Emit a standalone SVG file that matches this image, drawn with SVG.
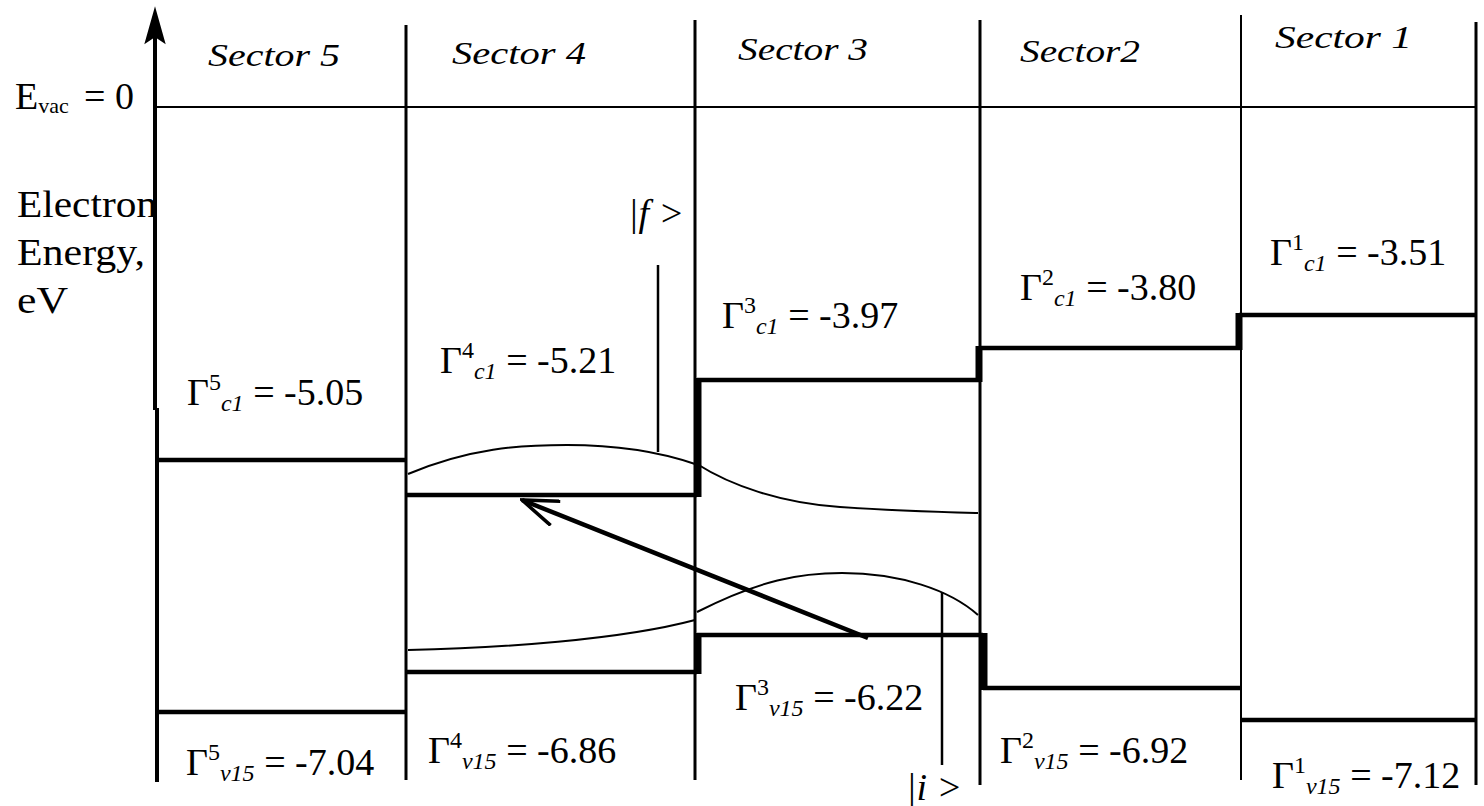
<svg xmlns="http://www.w3.org/2000/svg" width="1484" height="806" viewBox="0 0 1484 806">
<style>
text{font-family:"Liberation Serif","Times New Roman",serif;fill:#000}
.sec{font-style:italic;font-size:32px}
.lab{font-size:38px}
.g{font-size:38px}
.sup{font-size:24px}
.sub{font-size:24px;font-style:italic}
.div{stroke:#000;stroke-width:3;fill:none}
.band{stroke:#000;stroke-width:4.5;fill:none}
.step{stroke:#000;stroke-width:7;fill:none}
.wf{stroke:#000;stroke-width:2;fill:none}
.mk{stroke:#000;stroke-width:2.5;fill:none}
</style>
<defs>
<marker id="ah" viewBox="0 0 40 28" refX="38" refY="14" markerWidth="40" markerHeight="28" markerUnits="userSpaceOnUse" orient="auto">
<path d="M2,1 L38,14 L2,27" fill="none" stroke="#000" stroke-width="3.5"/>
</marker>
</defs>
<rect width="1484" height="806" fill="#fff"/>

<g id="axis-labels">
<text x="15" y="109" class="lab">E<tspan font-size="22" dy="4">vac</tspan><tspan dy="-4" x="84">= 0</tspan></text>
<text x="17" y="217" class="lab" textLength="140" lengthAdjust="spacingAndGlyphs">Electron</text>
<text x="17" y="265" class="lab" textLength="128" lengthAdjust="spacingAndGlyphs">Energy,</text>
<text x="17" y="313" class="lab" textLength="51" lengthAdjust="spacingAndGlyphs">eV</text>
</g>

<g id="axis">
<line x1="155" y1="28" x2="155" y2="410" stroke="#000" stroke-width="4"/>
<line x1="157" y1="408" x2="157" y2="782" stroke="#000" stroke-width="4"/>
<path d="M155,10 L146,42 L155,36 L164,42 Z" fill="#000" stroke="#000" stroke-width="2"/>
</g>

<g id="dividers">
<line x1="157" y1="107" x2="1476" y2="107" stroke="#000" stroke-width="2"/>
<line class="div" x1="406" y1="25" x2="406" y2="780"/>
<line class="div" x1="695" y1="20" x2="695" y2="780"/>
<line class="div" x1="980" y1="20" x2="980" y2="785"/>
<line x1="1241" y1="15" x2="1241" y2="780" stroke="#000" stroke-width="2"/>
<line class="div" x1="1476" y1="22" x2="1476" y2="785"/>
</g>

<g id="sector5">
<text x="208" y="66" class="sec" textLength="132" lengthAdjust="spacingAndGlyphs">Sector 5</text>
<line class="band" x1="157" y1="460" x2="406" y2="460"/>
<line class="band" x1="157" y1="712" x2="406" y2="712"/>
<text x="187" y="405" class="g">Γ<tspan class="sup" dy="-15">5</tspan><tspan class="sub" dy="21">c1</tspan><tspan dy="-6"> = -5.05</tspan></text>
<text x="186" y="775" class="g">Γ<tspan class="sup" dy="-15">5</tspan><tspan class="sub" dy="21">v15</tspan><tspan dy="-6"> = -7.04</tspan></text>
</g>

<g id="sector4">
<text x="452" y="64" class="sec" textLength="134" lengthAdjust="spacingAndGlyphs">Sector 4</text>
<line class="band" x1="406" y1="495" x2="697" y2="495"/>
<line class="band" x1="406" y1="672" x2="697" y2="672"/>
<text x="440" y="373" class="g">Γ<tspan class="sup" dy="-15">4</tspan><tspan class="sub" dy="21">c1</tspan><tspan dy="-6"> = -5.21</tspan></text>
<text x="428" y="763" class="g">Γ<tspan class="sup" dy="-15">4</tspan><tspan class="sub" dy="21">v15</tspan><tspan dy="-6"> = -6.86</tspan></text>
</g>

<g id="sector3">
<text x="738" y="60" class="sec" textLength="130" lengthAdjust="spacingAndGlyphs">Sector 3</text>
<line class="band" x1="697" y1="380" x2="980" y2="380"/>
<line class="band" x1="697" y1="635" x2="983" y2="635"/>
<line class="step" x1="698" y1="378" x2="698" y2="497"/>
<line class="step" x1="698" y1="633" x2="698" y2="674"/>
<text x="722" y="328" class="g">Γ<tspan class="sup" dy="-15">3</tspan><tspan class="sub" dy="21">c1</tspan><tspan dy="-6"> = -3.97</tspan></text>
<text x="735" y="710" class="g">Γ<tspan class="sup" dy="-15">3</tspan><tspan class="sub" dy="21">v15</tspan><tspan dy="-6"> = -6.22</tspan></text>
</g>

<g id="sector2">
<text x="1020" y="62" class="sec" textLength="120" lengthAdjust="spacingAndGlyphs">Sector2</text>
<line class="band" x1="980" y1="348" x2="1241" y2="348"/>
<line class="band" x1="983" y1="688" x2="1241" y2="688"/>
<line class="step" x1="979" y1="346" x2="979" y2="382"/>
<line class="step" x1="984" y1="633" x2="984" y2="690"/>
<text x="1020" y="300" class="g">Γ<tspan class="sup" dy="-15">2</tspan><tspan class="sub" dy="21">c1</tspan><tspan dy="-6"> = -3.80</tspan></text>
<text x="1000" y="763" class="g">Γ<tspan class="sup" dy="-15">2</tspan><tspan class="sub" dy="21">v15</tspan><tspan dy="-6"> = -6.92</tspan></text>
</g>

<g id="sector1">
<text x="1275" y="48" class="sec" textLength="137" lengthAdjust="spacingAndGlyphs">Sector 1</text>
<line class="band" x1="1239" y1="315" x2="1476" y2="315"/>
<line class="band" x1="1241" y1="720" x2="1476" y2="720"/>
<line class="step" x1="1239" y1="313" x2="1239" y2="350"/>
<text x="1272" y="788" class="g">Γ<tspan class="sup" dy="-15">1</tspan><tspan class="sub" dy="21">v15</tspan><tspan dy="-6"> = -7.12</tspan></text>
<text x="1270" y="265" class="g">Γ<tspan class="sup" dy="-15">1</tspan><tspan class="sub" dy="21">c1</tspan><tspan dy="-6"> = -3.51</tspan></text>
</g>

<g id="state-f">
<path class="wf" d="M408,474 C470,448 520,445 567,445 C620,445 660,452 695,464"/>
<path class="wf" d="M697,464 C730,485 780,503 840,507 S940,512 978,513"/>
<line class="mk" x1="658" y1="265" x2="658" y2="452"/>
<text x="628" y="226" class="g" font-style="italic">|f &gt;</text>
</g>

<g id="state-i">
<path class="wf" d="M408,650 C500,648 620,640 695,620"/>
<path class="wf" d="M697,612 C760,580 800,573 842,573 C900,573 950,590 978,615"/>
<line class="mk" x1="942" y1="592" x2="942" y2="765"/>
<text x="906" y="800" class="g" font-style="italic">|i &gt;</text>
</g>

<g id="connectors">
<line x1="868" y1="638" x2="522" y2="500" stroke="#000" stroke-width="4.5" marker-end="url(#ah)"/>
</g>
</svg>
